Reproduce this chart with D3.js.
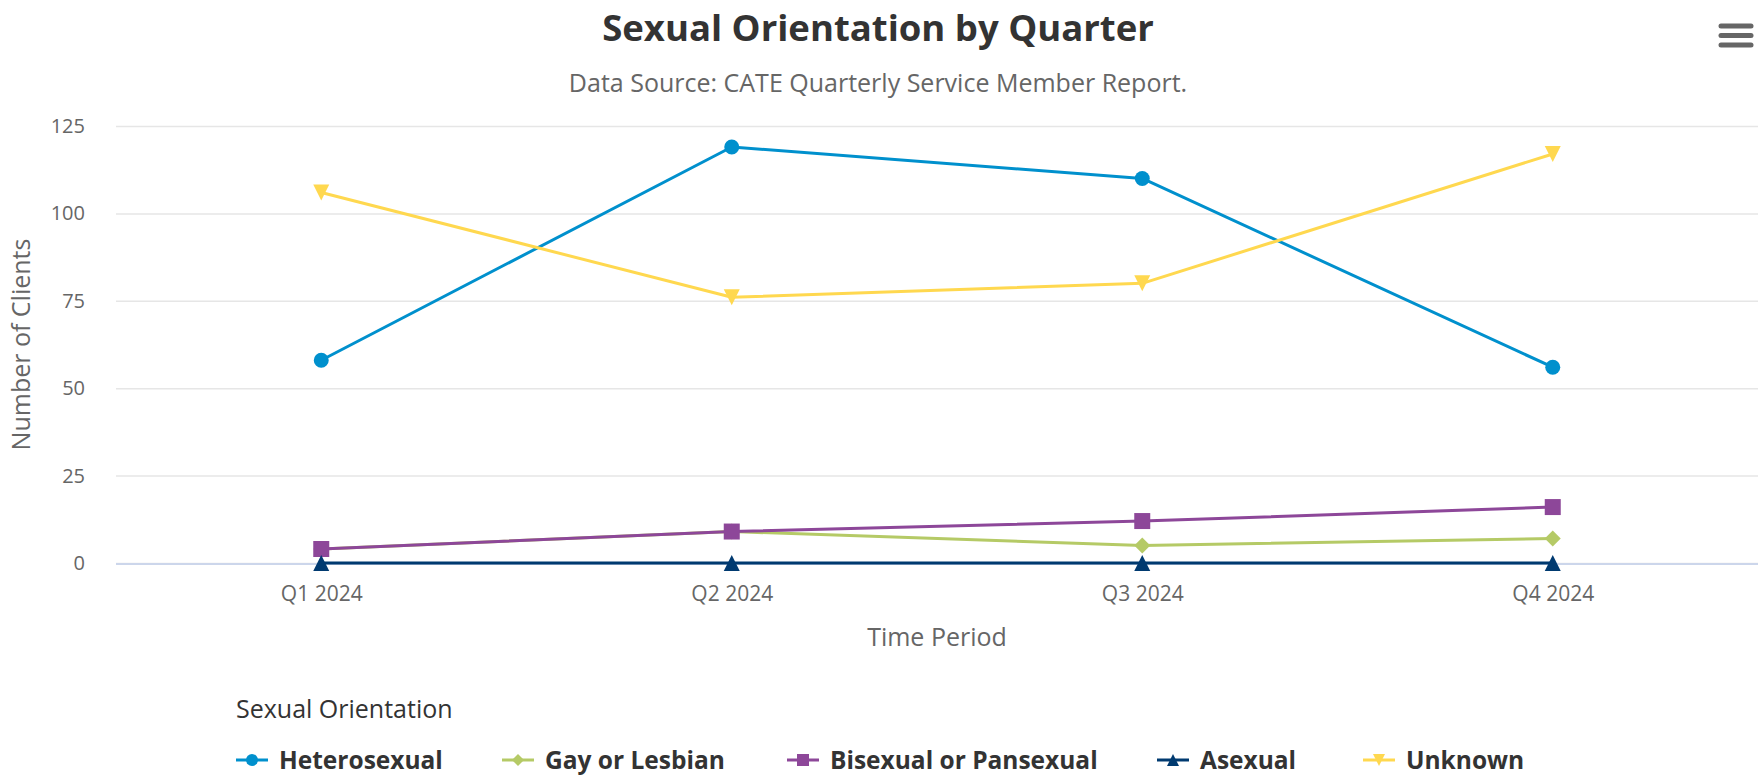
<!DOCTYPE html>
<html>
<head>
<meta charset="utf-8">
<script src="https://cdn.jsdelivr.net/npm/d3@7"></script>
<style>
  body { margin: 0; background: #fff; }
  svg { display: block; font-family: "Open Sans", "Noto Sans", sans-serif; }
</style>
</head>
<body>
<div id="chart"></div>
<script>
// data
const quarters = ['Q1 2024', 'Q2 2024', 'Q3 2024', 'Q4 2024'];
const yTicks = [0, 25, 50, 75, 100, 125];
const heterosexual = [58, 119, 110, 56];
const gayLesbian = [4, 9, 5, 7];
const bisexual = [4, 9, 12, 16];
const asexual = [0, 0, 0, 0];
const unknown = [106, 76, 80, 117];

const seriesNames = ['Heterosexual', 'Gay or Lesbian', 'Bisexual or Pansexual', 'Asexual', 'Unknown'];
const seriesValues = [heterosexual, gayLesbian, bisexual, asexual, unknown];
const seriesColors = ['#0090cd', '#b5ca66', '#8d4799', '#003a70', '#ffd84f'];
const seriesSymbols = ['circle', 'diamond', 'square', 'triangle', 'triangle-down'];

const W = 1762, H = 780;
const plot = { left: 116, right: 1758, top: 126, bottom: 563 };

const svg = d3.select('#chart').append('svg')
  .attr('width', W)
  .attr('height', H);

const x = d3.scalePoint()
  .domain(quarters)
  .range([plot.left, plot.right])
  .padding(0.5);

const y = d3.scaleLinear()
  .domain([0, 125])
  .range([plot.bottom, plot.top]);

// marker shapes, r = half size
function symbolPath(type, cx, cy, r) {
  switch (type) {
    case 'circle':
      return `M${cx - r},${cy}a${r},${r} 0 1,0 ${2 * r},0a${r},${r} 0 1,0 ${-2 * r},0Z`;
    case 'square':
      return `M${cx - r},${cy - r}h${2 * r}v${2 * r}h${-2 * r}Z`;
    case 'diamond':
      return `M${cx},${cy - r}L${cx + r},${cy}L${cx},${cy + r}L${cx - r},${cy}Z`;
    case 'triangle':
      return `M${cx},${cy - r}L${cx + r},${cy + r}L${cx - r},${cy + r}Z`;
    case 'triangle-down':
      return `M${cx - r},${cy - r}L${cx + r},${cy - r}L${cx},${cy + r}Z`;
  }
}

// Title + subtitle
svg.append('text')
  .attr('x', 878).attr('y', 41)
  .attr('text-anchor', 'middle')
  .attr('font-size', 36.5).attr('font-weight', 700)
  .attr('fill', '#333')
  .text('Sexual Orientation by Quarter');

svg.append('text')
  .attr('x', 878).attr('y', 92)
  .attr('text-anchor', 'middle')
  .attr('font-size', 25)
  .attr('fill', '#666')
  .text('Data Source: CATE Quarterly Service Member Report.');

// hamburger menu
const menu = svg.append('g')
  .attr('stroke', '#666')
  .attr('stroke-width', 5)
  .attr('stroke-linecap', 'round');
[26, 35.5, 45].forEach(yy => {
  menu.append('line').attr('x1', 1721).attr('x2', 1751).attr('y1', yy).attr('y2', yy);
});

// gridlines
svg.append('g')
  .attr('transform', `translate(${plot.left},0)`)
  .call(d3.axisLeft(y).tickValues(yTicks).tickSize(-(plot.right - plot.left)).tickFormat(''))
  .call(g => g.select('.domain').remove())
  .call(g => g.selectAll('line').attr('stroke', '#e6e6e6').attr('stroke-width', 1.5));

// y labels
svg.append('g')
  .attr('transform', `translate(${plot.left},0)`)
  .call(d3.axisLeft(y).tickValues(yTicks).tickSize(0).tickPadding(31))
  .call(g => g.select('.domain').remove())
  .call(g => g.selectAll('text')
    .attr('font-family', '"Open Sans", "Noto Sans", sans-serif')
    .attr('font-size', 20).attr('fill', '#666'));

// x axis
svg.append('g')
  .attr('transform', `translate(0,${plot.bottom})`)
  .call(d3.axisBottom(x).tickSize(0).tickPadding(23))
  .call(g => g.select('.domain').attr('stroke', '#ccd6eb').attr('stroke-width', 2)
    .attr('d', `M${plot.left},1H${plot.right}`))
  .call(g => g.selectAll('text')
    .attr('font-family', '"Open Sans", "Noto Sans", sans-serif')
    .attr('font-size', 21).attr('fill', '#666'));

// axis titles
svg.append('text')
  .attr('transform', `translate(30,${(plot.top + plot.bottom) / 2}) rotate(-90)`)
  .attr('text-anchor', 'middle')
  .attr('font-size', 25).attr('fill', '#666')
  .text('Number of Clients');

svg.append('text')
  .attr('x', (plot.left + plot.right) / 2).attr('y', 646)
  .attr('text-anchor', 'middle')
  .attr('font-size', 25).attr('fill', '#666')
  .text('Time Period');

// series
const line = d3.line()
  .x((d, i) => x(quarters[i]))
  .y(d => y(d));

seriesValues.forEach((vals, s) => {
  const g = svg.append('g');
  g.append('path')
    .datum(vals)
    .attr('d', line)
    .attr('fill', 'none')
    .attr('stroke', seriesColors[s])
    .attr('stroke-width', 3)
    .attr('stroke-linejoin', 'round');
  g.selectAll('path.marker')
    .data(vals)
    .enter().append('path')
    .attr('class', 'marker')
    .attr('fill', seriesColors[s])
    .attr('d', (d, i) => symbolPath(seriesSymbols[s], x(quarters[i]), y(d), seriesSymbols[s] === 'circle' ? 7.5 : 8));
});

// legend
svg.append('text')
  .attr('x', 236).attr('y', 718)
  .attr('font-size', 25).attr('fill', '#333')
  .text('Sexual Orientation');

const legendX = [236, 502, 787, 1157, 1363];
const legendY = 760;
seriesNames.forEach((name, s) => {
  const g = svg.append('g').attr('transform', `translate(${legendX[s]},${legendY})`);
  g.append('line')
    .attr('x1', 0).attr('x2', 32)
    .attr('stroke', seriesColors[s]).attr('stroke-width', 3);
  g.append('path')
    .attr('fill', seriesColors[s])
    .attr('d', symbolPath(seriesSymbols[s], 16, 0, 6));
  g.append('text')
    .attr('x', 43).attr('y', 9)
    .attr('font-size', 24.5).attr('font-weight', 700)
    .attr('fill', '#333')
    .text(name);
});
</script>
</body>
</html>
